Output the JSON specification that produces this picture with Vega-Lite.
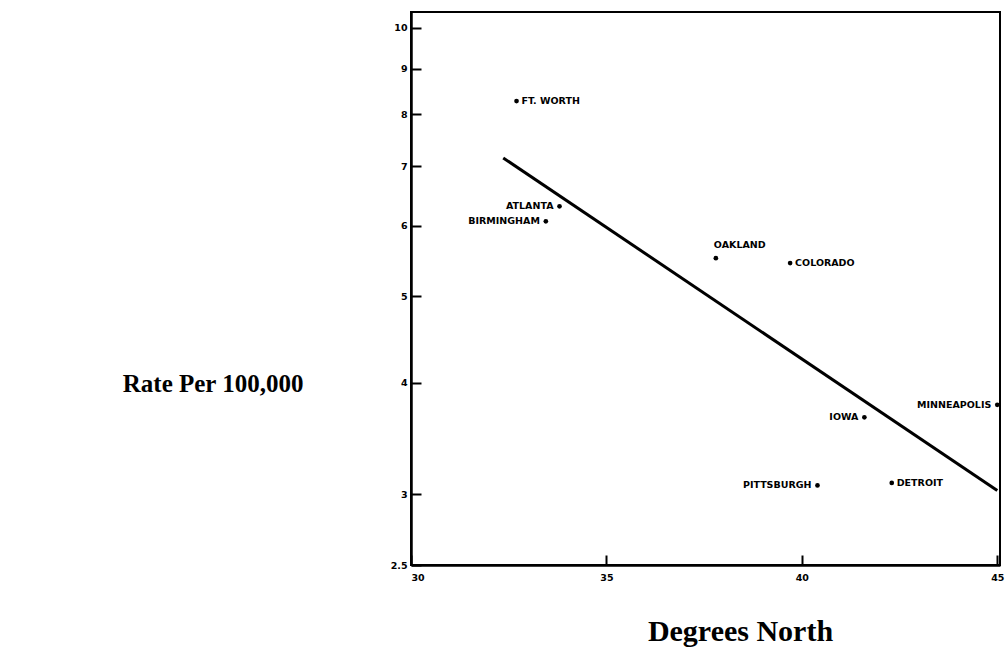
{
  "$schema": "https://vega.github.io/schema/vega-lite/v6.json",
  "width": 589,
  "height": 553,
  "autosize": "none",
  "padding": {"left": 411, "top": 12, "right": 5, "bottom": 86},
  "background": "white",
  "config": {
    "view": {"stroke": "black", "strokeWidth": 2},
    "axis": {
      "grid": false,
      "domainColor": "black",
      "domainWidth": 2.5,
      "tickColor": "black",
      "tickWidth": 2,
      "labelFont": "DejaVu Sans",
      "labelFontWeight": "bold",
      "labelFontSize": 9.5,
      "labelColor": "black",
      "titleColor": "black",
      "titleFont": "Liberation Serif",
      "titleFontWeight": "bold"
    }
  },
  "datasets": {
    "cities": [
      {"city": "FT. WORTH", "lat": 32.7, "rate": 8.28},
      {"city": "ATLANTA", "lat": 33.8, "rate": 6.31},
      {"city": "BIRMINGHAM", "lat": 33.45, "rate": 6.07},
      {"city": "OAKLAND", "lat": 37.8, "rate": 5.52},
      {"city": "COLORADO", "lat": 39.7, "rate": 5.45},
      {"city": "MINNEAPOLIS", "lat": 45.0, "rate": 3.78},
      {"city": "IOWA", "lat": 41.6, "rate": 3.66},
      {"city": "PITTSBURGH", "lat": 40.4, "rate": 3.07},
      {"city": "DETROIT", "lat": 42.3, "rate": 3.09}
    ],
    "fit": [
      {"lat": 32.36, "rate": 7.15},
      {"lat": 45.0, "rate": 3.03}
    ]
  },
  "layer": [
    {
      "data": {"name": "fit"},
      "mark": {"type": "line", "color": "black", "strokeWidth": 3},
      "encoding": {
        "x": {
          "field": "lat", "type": "quantitative",
          "scale": {"domain": [30, 45.07], "nice": false, "zero": false},
          "axis": {
            "values": [30, 35, 40, 45],
            "tickSize": -10,
            "labelPadding": 17,
            "title": "Degrees North",
            "titleFontSize": 30,
            "titleX": 329,
            "titleY": 66,
            "titleBaseline": "middle",
            "titleAnchor": "middle",
            "titleAlign": "center"
          }
        },
        "y": {
          "field": "rate", "type": "quantitative",
          "scale": {"type": "log", "domain": [2.5, 10.42], "nice": false, "zero": false},
          "axis": {
            "values": [2.5, 3, 4, 5, 6, 7, 8, 9, 10],
            "tickSize": -10,
            "labelPadding": 14,
            "labelExpr": "datum.value == 2.5 ? '2.5' : format(datum.value, 'd')",
            "title": "Rate Per 100,000",
            "titleFontSize": 25,
            "titleAngle": 0,
            "titleAlign": "right",
            "titleBaseline": "middle",
            "titleX": -108,
            "titleY": 371
          }
        }
      }
    },
    {
      "data": {"name": "cities"},
      "mark": {"type": "point", "filled": true, "color": "black", "size": 22, "opacity": 1},
      "encoding": {
        "x": {"field": "lat", "type": "quantitative"},
        "y": {"field": "rate", "type": "quantitative"}
      }
    },
    {
      "data": {"name": "cities"},
      "transform": [{"filter": {"field": "city", "oneOf": ["FT. WORTH", "COLORADO", "DETROIT"]}}],
      "mark": {"type": "text", "align": "left", "baseline": "middle", "dx": 5, "font": "DejaVu Sans", "fontWeight": "bold", "fontSize": 9.5, "color": "black"},
      "encoding": {
        "x": {"field": "lat", "type": "quantitative"},
        "y": {"field": "rate", "type": "quantitative"},
        "text": {"field": "city"}
      }
    },
    {
      "data": {"name": "cities"},
      "transform": [{"filter": {"field": "city", "oneOf": ["ATLANTA", "BIRMINGHAM", "IOWA", "MINNEAPOLIS", "PITTSBURGH"]}}],
      "mark": {"type": "text", "align": "right", "baseline": "middle", "dx": -6, "font": "DejaVu Sans", "fontWeight": "bold", "fontSize": 9.5, "color": "black"},
      "encoding": {
        "x": {"field": "lat", "type": "quantitative"},
        "y": {"field": "rate", "type": "quantitative"},
        "text": {"field": "city"}
      }
    },
    {
      "data": {"name": "cities"},
      "transform": [{"filter": {"field": "city", "oneOf": ["OAKLAND"]}}],
      "mark": {"type": "text", "align": "left", "baseline": "middle", "dx": -2, "dy": -13, "font": "DejaVu Sans", "fontWeight": "bold", "fontSize": 9.5, "color": "black"},
      "encoding": {
        "x": {"field": "lat", "type": "quantitative"},
        "y": {"field": "rate", "type": "quantitative"},
        "text": {"field": "city"}
      }
    }
  ]
}
